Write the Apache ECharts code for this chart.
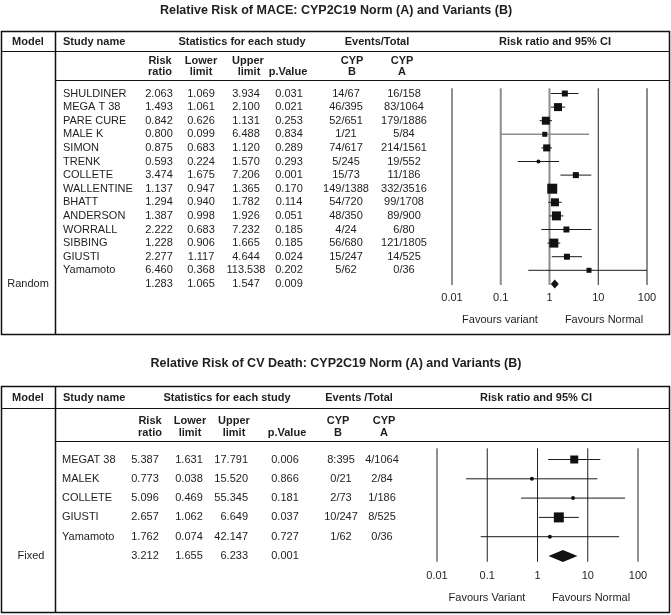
<!DOCTYPE html>
<html><head><meta charset="utf-8">
<script src="https://cdn.jsdelivr.net/npm/echarts@6/dist/echarts.min.js"></script>
<style>html,body{margin:0;padding:0;background:#fff}#c{width:671px;height:615px}</style>
</head><body><div id="c"></div>
<script>
// ---------- DATA: MACE ----------
const maceStudies = ['SHULDINER','MEGA T 38','PARE CURE','MALE K','SIMON','TRENK','COLLETE','WALLENTINE','BHATT','ANDERSON','WORRALL','SIBBING','GIUSTI','Yamamoto'];
const maceRR    = [2.063,1.493,0.842,0.800,0.875,0.593,3.474,1.137,1.294,1.387,2.222,1.228,2.277,6.460];
const maceLower = [1.069,1.061,0.626,0.099,0.683,0.224,1.675,0.947,0.940,0.998,0.683,0.906,1.117,0.368];
const maceUpper = [3.934,2.100,1.131,6.488,1.120,1.570,7.206,1.365,1.782,1.926,7.232,1.665,4.644,113.538];
const maceP     = [0.031,0.021,0.253,0.834,0.289,0.293,0.001,0.170,0.114,0.051,0.185,0.185,0.024,0.202];
const maceEventsB = ['14/67','46/395','52/651','1/21','74/617','5/245','15/73','149/1388','54/720','48/350','4/24','56/680','15/247','5/62'];
const maceEventsA = ['16/158','83/1064','179/1886','5/84','214/1561','19/552','11/186','332/3516','99/1708','89/900','6/80','121/1805','14/525','0/36'];
const maceWeight  = [6,8,8,5,7,4,6,10,8,9,6,9,6,5];   // relative study weight (box size)
const maceModel = 'Random';
const maceSummary = [1.283,1.065,1.547,0.009];          // rr, lower, upper, p

// ---------- DATA: CV DEATH ----------
const cvStudies = ['MEGAT 38','MALEK','COLLETE','GIUSTI','Yamamoto'];
const cvRR    = [5.387,0.773,5.096,2.657,1.762];
const cvLower = [1.631,0.038,0.469,1.062,0.074];
const cvUpper = [17.791,15.520,55.345,6.649,42.147];
const cvP     = [0.006,0.866,0.181,0.037,0.727];
const cvEventsB = ['8:395','0/21','2/73','10/247','1/62'];
const cvEventsA = ['4/1064','2/84','1/186','8/525','0/36'];
const cvWeight  = [8,4,4,10,4];
const cvModel = 'Fixed';
const cvSummary = [3.212,1.655,6.233,0.001];

const tickValues = [0.01,0.1,1,10,100];
const tickLabels = ['0.01','0.1','1','10','100'];

// ---------- LAYOUT ----------
const FONT = '"Liberation Sans", Arial, sans-serif';
const TXT = '#1e1e1e';
const P1 = {row0: 93.5, step: 13.6, n: maceStudies.length + 1, left: 452, width: 195};
const P2 = {row0: 459.5, step: 19.3, n: cvStudies.length + 1, left: 437, width: 201};
function gtop(p){ return p.row0 - 0.5*p.step; }
function ght(p){ return p.n*p.step; }

const chart = echarts.init(document.getElementById('c'), null, {renderer:'canvas'});

function tableTextData(studies, rr, lo, up, pv, eb, ea, model, summ, cols) {
  const d = [];
  studies.forEach((s,i) => {
    d.push([cols.name[0], i, s, cols.name[1]]);
    d.push([cols.rr[0], i, rr[i].toFixed(3), cols.rr[1]]);
    d.push([cols.lo[0], i, lo[i].toFixed(3), cols.lo[1]]);
    d.push([cols.up[0], i, up[i].toFixed(3), cols.up[1]]);
    d.push([cols.p[0], i, pv[i].toFixed(3), cols.p[1]]);
    d.push([cols.b[0], i, eb[i], cols.b[1]]);
    d.push([cols.a[0], i, ea[i], cols.a[1]]);
  });
  const k = studies.length;
  d.push([cols.model[0], k, model, 'center']);
  d.push([cols.rr[0], k, summ[0].toFixed(3), cols.rr[1]]);
  d.push([cols.lo[0], k, summ[1].toFixed(3), cols.lo[1]]);
  d.push([cols.up[0], k, summ[2].toFixed(3), cols.up[1]]);
  d.push([cols.p[0], k, summ[3].toFixed(3), cols.p[1]]);
  return d;
}
const cols1 = {name:[63,'left'], rr:[159,'center'], lo:[201,'center'], up:[246,'center'], p:[289,'center'], b:[346,'center'], a:[404,'center'], model:[28]};
const cols2 = {name:[62,'left'], rr:[145,'center'], lo:[189,'center'], up:[248,'right'], p:[285,'center'], b:[341,'center'], a:[382,'center'], model:[31]};

function textSeries(xi, yi, data) {
  return {
    type:'custom', xAxisIndex:xi, yAxisIndex:yi, data:data, silent:true,
    encode:{x:0,y:1},
    renderItem:function(params, api){
      const it = data[params.dataIndex];
      const pt = api.coord([it[0], it[1]]);
      return {type:'text', x:pt[0], y:pt[1], style:{text:it[2], align:it[3], verticalAlign:'middle', fill:TXT, font:'11px '+FONT}};
    }
  };
}

function refLineSeries(xi, yi, yFrom, yTo, colors, widths) {
  return {
    type:'custom', xAxisIndex:xi, yAxisIndex:yi, silent:true,
    data: tickValues.map(v => [v, 0]), encode:{x:0,y:1},
    renderItem:function(params, api){
      const v = api.value(0);
      const a = api.coord([v, yFrom]), b = api.coord([v, yTo]);
      const i = params.dataIndex;
      return {type:'line', shape:{x1:a[0],y1:a[1],x2:b[0],y2:b[1]}, style:{stroke:colors[i], lineWidth:widths[i]}};
    }
  };
}

function studySeries(xi, yi, rr, lo, up, w, lineColors) {
  const data = rr.map((r,i) => [r, i, lo[i], up[i], w[i]]);
  return {
    type:'custom', xAxisIndex:xi, yAxisIndex:yi, silent:true, data:data, encode:{x:0,y:1},
    renderItem:function(params, api){
      const i = params.dataIndex;
      const r = api.value(0), row = api.value(1), l = api.value(2), u = Math.min(api.value(3), 100), s = api.value(4);
      const c = api.coord([r,row]), a = api.coord([l,row]), b = api.coord([u,row]);
      const mark = s <= 4.5
        ? {type:'circle', shape:{cx:c[0], cy:c[1], r:s/2}, style:{fill:'#111'}}
        : {type:'rect', shape:{x:c[0]-s/2, y:c[1]-s/2, width:s, height:s}, style:{fill:'#111'}};
      return {type:'group', children:[
        {type:'line', shape:{x1:a[0],y1:a[1],x2:b[0],y2:b[1]}, style:{stroke:lineColors[i]||'#1a1a1a', lineWidth:lineColors[i]?1.6:1}},
        mark
      ]};
    }
  };
}

function diamondSeries(xi, yi, summ, row, half) {
  return {
    type:'custom', xAxisIndex:xi, yAxisIndex:yi, silent:true,
    data:[[summ[0], row, summ[1], summ[2]]], encode:{x:0,y:1},
    renderItem:function(params, api){
      const c = api.coord([api.value(0), api.value(1)]);
      const a = api.coord([api.value(2), api.value(1)]);
      const b = api.coord([api.value(3), api.value(1)]);
      return {type:'polygon', shape:{points:[[a[0],c[1]],[c[0],c[1]-half],[b[0],c[1]],[c[0],c[1]+half]]}, style:{fill:'#111'}};
    }
  };
}

function logAxis(gi, margin) {
  return {type:'log', logBase:10, gridIndex:gi, min:0.01, max:100,
    axisLine:{show:false}, axisTick:{show:false}, splitLine:{show:false}, minorTick:{show:false},
    axisLabel:{margin:margin, color:TXT, fontSize:11, fontFamily:FONT, showMinLabel:true, showMaxLabel:true,
      formatter:function(v){ const i = tickValues.findIndex(t => Math.abs(Math.log10(t)-Math.log10(v))<1e-6); return i>=0?tickLabels[i]:''; }}};
}
function pixAxis(gi){ return {type:'value', gridIndex:gi, min:0, max:671, show:false}; }
function rowAxis(gi, p){ return {type:'value', gridIndex:gi, min:-0.5, max:p.n-0.5, inverse:true, show:false}; }

// graphics (table frame, headers, titles)
const g = [];
function T(x,y,text,opt){ g.push(Object.assign({type:'text', x:x, y:y, silent:true, style:Object.assign({text:text, fill:TXT, font:'bold 11px '+FONT, align:'center', verticalAlign:'middle'}, (opt||{}))})); }
function L(x1,y1,x2,y2,w){ g.push({type:'line', silent:true, shape:{x1:x1,y1:y1,x2:x2,y2:y2}, style:{stroke:'#111', lineWidth:w||1}}); }
function R(x,y,w,h){ g.push({type:'rect', silent:true, shape:{x:x,y:y,width:w,height:h}, style:{fill:null, stroke:'#111', lineWidth:1.5}}); }

// Table 1
T(336, 10.5, 'Relative Risk of MACE: CYP2C19 Norm (A) and Variants (B)', {font:'bold 12.5px '+FONT});
R(1.5, 31.5, 668, 303);
L(1.5, 51.5, 669.5, 51.5, 1.2);
L(55.5, 80.5, 669.5, 80.5, 1.2);
L(55.5, 31.5, 55.5, 334.5, 1.5);
T(28, 41.5, 'Model'); T(63, 41.5, 'Study name', {align:'left'});
T(242, 41.5, 'Statistics for each study'); T(377, 41.5, 'Events/Total'); T(555, 41.5, 'Risk ratio and 95% CI');
T(160, 61, 'Risk'); T(160, 72, 'ratio'); T(201, 61, 'Lower'); T(201, 72, 'limit');
T(248, 61, 'Upper'); T(249, 72, 'limit'); T(288, 72, 'p.Value');
T(352, 61, 'CYP'); T(352, 72, 'B'); T(402, 61, 'CYP'); T(402, 72, 'A');
T(500, 319.5, 'Favours variant', {font:'11px '+FONT}); T(604, 319.5, 'Favours Normal', {font:'11px '+FONT});

// Table 2
T(336, 364, 'Relative Risk of CV Death: CYP2C19 Norm (A) and Variants (B)', {font:'bold 12.5px '+FONT});
R(1.5, 386.5, 668, 226);
L(1.5, 408.5, 669.5, 408.5, 1.2);
L(55.5, 441.5, 669.5, 441.5, 1.2);
L(55.5, 386.5, 55.5, 612.5, 1.5);
T(28, 397.5, 'Model'); T(63, 397.5, 'Study name', {align:'left'});
T(227, 397.5, 'Statistics for each study'); T(359, 397.5, 'Events /Total'); T(536, 397.5, 'Risk ratio and 95% CI');
T(150, 421, 'Risk'); T(150, 433, 'ratio'); T(190, 421, 'Lower'); T(190, 433, 'limit');
T(234, 421, 'Upper'); T(234, 433, 'limit'); T(287, 433, 'p.Value');
T(338, 421, 'CYP'); T(338, 433, 'B'); T(384, 421, 'CYP'); T(384, 433, 'A');
T(487, 598, 'Favours Variant', {font:'11px '+FONT}); T(591, 598, 'Favours Normal', {font:'11px '+FONT});

const grey = '#8c8c8c';
const option = {
  animation:false,
  backgroundColor:'#fff',
  grid:[
    {left:P1.left, width:P1.width, top:gtop(P1), height:ght(P1)},
    {left:0, width:671, top:gtop(P1), height:ght(P1)},
    {left:P2.left, width:P2.width, top:gtop(P2), height:ght(P2)},
    {left:0, width:671, top:gtop(P2), height:ght(P2)}
  ],
  xAxis:[logAxis(0, 1.5), pixAxis(1), logAxis(2, 5), pixAxis(3)],
  yAxis:[rowAxis(0,P1), rowAxis(1,P1), rowAxis(2,P2), rowAxis(3,P2)],
  series:[
    refLineSeries(0,0,-0.38,14.08,['#222',grey,grey,'#222',grey],[1,2,2,1,2]),
    studySeries(0,0,maceRR,maceLower,maceUpper,maceWeight,{3:grey}),
    diamondSeries(0,0,maceSummary,maceStudies.length,4.5),
    textSeries(1,1,tableTextData(maceStudies,maceRR,maceLower,maceUpper,maceP,maceEventsB,maceEventsA,maceModel,maceSummary,cols1)),
    refLineSeries(2,2,-0.58,5.3,['#222','#222','#222','#222','#222'],[1,1,1,1,1]),
    studySeries(2,2,cvRR,cvLower,cvUpper,cvWeight,{}),
    diamondSeries(2,2,cvSummary,cvStudies.length,6),
    textSeries(3,3,tableTextData(cvStudies,cvRR,cvLower,cvUpper,cvP,cvEventsB,cvEventsA,cvModel,cvSummary,cols2))
  ],
  graphic:{elements:g}
};
chart.setOption(option);
</script>
</body></html>
